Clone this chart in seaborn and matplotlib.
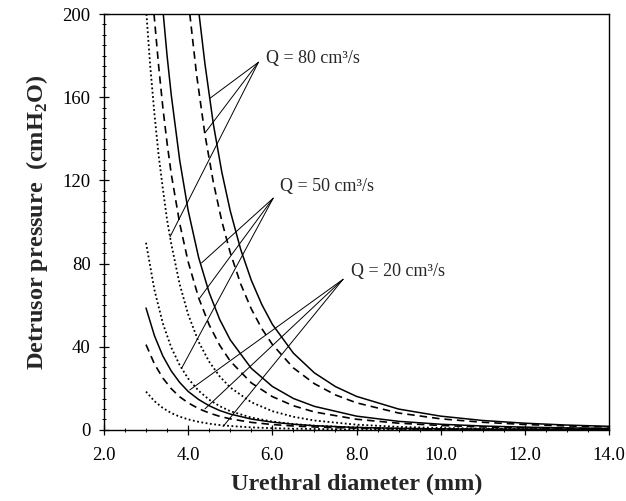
import numpy as np
import pandas as pd
import matplotlib
matplotlib.use('Agg')
import matplotlib.pyplot as plt
import seaborn as sns

# diametros (mm) y presiones (cmH2O)
d80_dot = [3.01, 3.1, 3.2, 3.3, 3.4, 3.5, 3.6, 3.8, 4.0, 4.25, 4.5, 4.75, 5.0, 5.5, 6.0, 6.5, 7.0, 8.0, 9.0, 10.0, 11.0, 12.0, 13.0, 14.0]
p80_dot = [200, 175, 152, 132, 116, 101, 89.4, 70, 55.6, 42.3, 32.8, 25.7, 20.4, 13.3, 9.0, 6.3, 4.5, 2.5, 1.45, 0.9, 0.6, 0.4, 0.3, 0.2]

d80_dash = [4.04, 4.2, 4.4, 4.6, 4.8, 5.0, 5.25, 5.5, 5.75, 6.0, 6.5, 7.0, 7.5, 8.0, 9.0, 10.0, 11.0, 12.0, 13.0, 14.0]
p80_dash = [200, 171, 142, 119, 100.4, 85.3, 70.1, 58.2, 48.7, 41.1, 29.8, 22.2, 16.8, 13.0, 8.1, 5.3, 3.64, 2.57, 1.87, 1.39]

d80_solid = [4.26, 4.4, 4.6, 4.8, 5.0, 5.25, 5.5, 5.75, 6.0, 6.5, 7.0, 7.5, 8.0, 9.0, 10.0, 11.0, 12.0, 13.0, 14.0]
p80_solid = [200, 176, 147, 124, 105.4, 86.7, 72.0, 60.3, 50.8, 36.9, 27.4, 20.8, 16.1, 10.0, 6.6, 4.5, 3.2, 2.3, 1.7]

d50_dot = [3.0, 3.2, 3.4, 3.6, 3.8, 4.0, 4.25, 4.5, 4.75, 5.0, 5.5, 6.0, 6.5, 7.0, 8.0, 9.0, 10.0, 11.0, 12.0, 13.0, 14.0]
p50_dot = [90, 67.3, 51.2, 39.6, 31.1, 24.7, 18.8, 14.5, 11.4, 9.0, 5.9, 4.0, 2.8, 2.0, 1.09, 0.64, 0.40, 0.26, 0.18, 0.12, 0.09]

d50_dash = [3.19, 3.3, 3.4, 3.5, 3.6, 3.8, 4.0, 4.25, 4.5, 4.75, 5.0, 5.5, 6.0, 6.5, 7.0, 8.0, 9.0, 10.0, 11.0, 12.0, 13.0, 14.0]
p50_dash = [200, 175, 155, 138, 123, 99.3, 80.9, 63.5, 50.5, 40.7, 33.1, 22.6, 16.0, 11.6, 8.6, 5.1, 3.2, 2.1, 1.4, 1.0, 0.7, 0.54]

d50_solid = [3.41, 3.5, 3.6, 3.8, 4.0, 4.25, 4.5, 4.75, 5.0, 5.5, 6.0, 6.5, 7.0, 8.0, 9.0, 10.0, 11.0, 12.0, 13.0, 14.0]
p50_solid = [200, 180, 161, 129.7, 105.6, 82.9, 66.0, 53.1, 43.3, 29.6, 20.9, 15.1, 11.3, 6.6, 4.1, 2.7, 1.85, 1.3, 0.95, 0.7]

d20 = [3.0, 3.2, 3.4, 3.6, 3.8, 4.0, 4.25, 4.5, 4.75, 5.0, 5.5, 6.0, 6.5, 7.0, 8.0, 9.0, 10.0, 11.0, 12.0, 13.0, 14.0]
p20_solid = [58.6, 45.3, 35.5, 28.3, 22.8, 18.5, 14.6, 11.6, 9.3, 7.6, 5.2, 3.7, 2.7, 2.0, 1.16, 0.72, 0.47, 0.32, 0.23, 0.17, 0.12]
p20_dash = [41, 31.7, 24.9, 19.8, 15.9, 13.0, 10.2, 8.1, 6.5, 5.3, 3.6, 2.56, 1.86, 1.38, 0.81, 0.51, 0.33, 0.23, 0.16, 0.12, 0.09]
p20_dot = [18.4, 13.8, 10.5, 8.1, 6.35, 5.05, 3.84, 2.97, 2.33, 1.85, 1.2, 0.81, 0.57, 0.41, 0.22, 0.13, 0.08, 0.05, 0.04, 0.03, 0.02]

# etiquetas: texto, posicion del texto, vertice de las lineas, puntos sobre las curvas
labels = ['Q = 80 cm³/s', 'Q = 50 cm³/s', 'Q = 20 cm³/s']
label_pos = [(5.86, 178.7), (6.18, 117), (7.88, 76.1)]
apex_pos = [(5.67, 176.8), (6.02, 111.4), (7.68, 72.4)]
targets = [[(4.52, 159.5), (4.40, 142.8), (3.57, 92.8)],
           [(4.32, 80.3), (4.28, 63.5), (3.85, 29.8)],
           [(4.04, 19.2), (4.40, 10.1), (4.83, 1.6)]]

sns.set_style('ticks')
plt.rcParams['font.family'] = ['Liberation Serif', 'DejaVu Serif']
plt.rcParams['mathtext.fontset'] = 'custom'
plt.rcParams['mathtext.rm'] = 'Liberation Serif'
plt.rcParams['mathtext.bf'] = 'Liberation Serif:bold'

curves = [(d80_dot, p80_dot, 'dot'), (d80_dash, p80_dash, 'dash'), (d80_solid, p80_solid, 'solid'),
          (d50_dot, p50_dot, 'dot'), (d50_dash, p50_dash, 'dash'), (d50_solid, p50_solid, 'solid'),
          (d20, p20_dot, 'dot'), (d20, p20_dash, 'dash'), (d20, p20_solid, 'solid')]
styles = {'dot': (0, (1, 1.4)), 'dash': (0, (4.5, 3)), 'solid': '-'}
widths = {'dot': 1.3, 'dash': 1.2, 'solid': 1.1}

fig = plt.figure(figsize=(6.26, 5.01), dpi=100)
ax = fig.add_axes([0.166, 0.142, 0.807, 0.830])

for d, p, st in curves:
    df = pd.DataFrame({'d': d, 'p': p})
    sns.lineplot(data=df, x='d', y='p', ax=ax, color='black', linestyle=styles[st],
                 linewidth=widths[st], sort=False, estimator=None)

for txt, tp, ap, tg in zip(labels, label_pos, apex_pos, targets):
    for pt in tg:
        ax.annotate('', xy=pt, xytext=ap,
                    arrowprops=dict(arrowstyle='-', color='black', lw=0.7, shrinkA=0, shrinkB=0))
    ax.text(tp[0], tp[1], txt, fontsize=13, ha='left', va='center')

ax.set_xlim(2, 14)
ax.set_ylim(0, 200)
ax.set_xticks(np.arange(2, 14.1, 2))
ax.set_xticklabels([f'{v:.1f}' for v in np.arange(2, 14.1, 2)])
ax.set_yticks(np.arange(0, 201, 40))
ax.set_xticks(np.arange(2, 14.01, 0.5), minor=True)
ax.set_yticks(np.arange(0, 201, 5), minor=True)
ax.tick_params(axis='both', which='major', direction='inout', length=7, width=0.9,
               labelsize=13.5, color='black', labelcolor='black')
ax.tick_params(axis='x', which='major', pad=9)
ax.tick_params(axis='y', which='major', pad=6)
ax.tick_params(axis='both', which='minor', direction='inout', length=3.5, width=0.7, color='black')

for s in ax.spines.values():
    s.set_visible(True)
    s.set_color('black')
    s.set_linewidth(1.0)

ax.set_xlabel('Urethral diameter (mm)', fontsize=17.5, fontweight='bold', labelpad=7)
ax.set_ylabel(r'Detrusor pressure  (cmH$_\mathbf{2}$O)', fontsize=17.5, fontweight='bold', labelpad=9)

fig.savefig('out.png', dpi=100, facecolor='white')
